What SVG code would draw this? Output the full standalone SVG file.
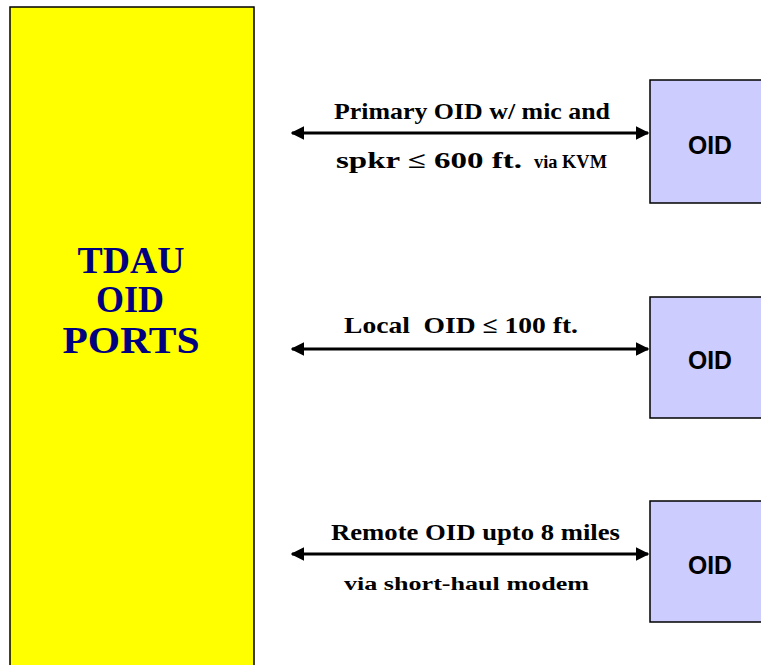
<svg xmlns="http://www.w3.org/2000/svg" width="761" height="665" viewBox="0 0 761 665">
<style>
.lbl{font-family:"Liberation Serif",serif;font-weight:bold;font-size:23px;fill:#000}
.sm{font-size:18px}
.oid{font-family:"Liberation Sans",Arial,sans-serif;font-weight:bold;font-size:25px;fill:#000}
.tdau{font-family:"Liberation Serif",serif;font-weight:bold;font-size:37px;fill:#000080}
.box{fill:#CCCCFF;stroke:#000;stroke-width:1.5}
.conn{stroke:#000;stroke-width:3;fill:none;marker-start:url(#ah);marker-end:url(#ah)}
</style>
<defs>
<marker id="ah" viewBox="0 0 10 10" refX="9" refY="5" markerWidth="4.5" markerHeight="4.5" orient="auto-start-reverse" markerUnits="strokeWidth">
<path d="M0,0 L10,5 L0,10 z" fill="#000"/>
</marker>
</defs>
<rect width="761" height="665" fill="#fff"/>
<g id="tdau">
<rect x="10" y="7" width="244" height="670" fill="#FFFF00" stroke="#000" stroke-width="1.5"/>
<text class="tdau" text-anchor="middle"><tspan x="131" y="273" textLength="107" lengthAdjust="spacingAndGlyphs">TDAU</tspan></text>
<text class="tdau" text-anchor="middle"><tspan x="130" y="312" textLength="68" lengthAdjust="spacingAndGlyphs">OID</tspan></text>
<text class="tdau" text-anchor="middle"><tspan x="131" y="353" textLength="137" lengthAdjust="spacingAndGlyphs">PORTS</tspan></text>
</g>
<g id="oid1">
<rect class="box" x="650" y="80" width="120" height="123"/>
<text class="oid" x="710" y="154" text-anchor="middle" textLength="44" lengthAdjust="spacingAndGlyphs">OID</text>
</g>
<g id="oid2">
<rect class="box" x="650" y="297" width="120" height="121"/>
<text class="oid" x="710" y="369" text-anchor="middle" textLength="44" lengthAdjust="spacingAndGlyphs">OID</text>
</g>
<g id="oid3">
<rect class="box" x="650" y="501" width="120" height="121"/>
<text class="oid" x="710" y="574" text-anchor="middle" textLength="44" lengthAdjust="spacingAndGlyphs">OID</text>
</g>
<g id="connectors">
<line class="conn" x1="292" y1="133" x2="648" y2="133"/>
<line class="conn" x1="292" y1="349" x2="648" y2="349"/>
<line class="conn" x1="292" y1="554" x2="648" y2="554"/>
</g>
<g id="labels">
<text class="lbl" x="334" y="119" textLength="276" lengthAdjust="spacingAndGlyphs">Primary OID w/ mic and</text>
<text class="lbl" x="336" y="168" textLength="186" lengthAdjust="spacingAndGlyphs">spkr ≤ 600 ft.</text>
<text class="lbl sm" x="534" y="168" textLength="73" lengthAdjust="spacingAndGlyphs">via KVM</text>
<text class="lbl" x="344" y="333" textLength="234" lengthAdjust="spacingAndGlyphs" xml:space="preserve">Local  OID ≤ 100 ft.</text>
<text class="lbl" x="331" y="540" textLength="289" lengthAdjust="spacingAndGlyphs">Remote OID upto 8 miles</text>
<text class="lbl sm" x="344" y="590" textLength="245" lengthAdjust="spacingAndGlyphs">via short-haul modem</text>
</g>
</svg>
